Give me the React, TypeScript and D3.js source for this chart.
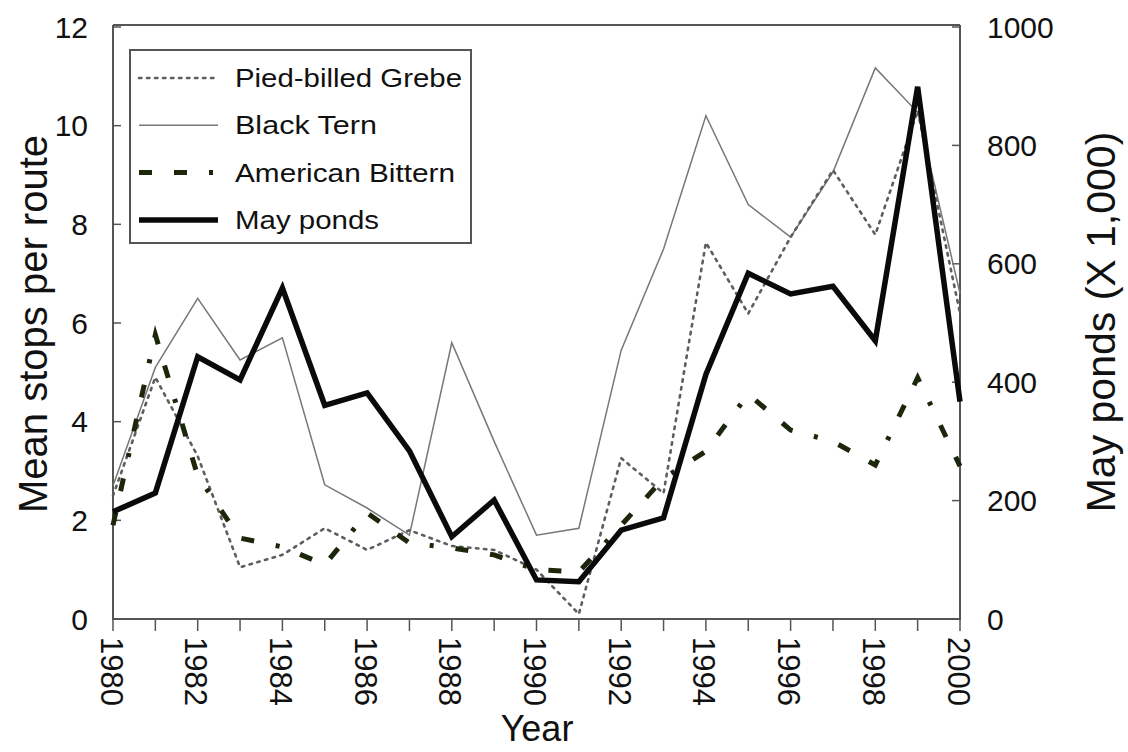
import React from "react";
import * as d3 from "d3";

const years = [1980,1981,1982,1983,1984,1985,1986,1987,1988,1989,1990,1991,1992,1993,1994,1995,1996,1997,1998,1999,2000];
const piedBilledGrebe = [2.5,4.9,3.3,1.05,1.3,1.84,1.4,1.8,1.48,1.4,1.0,0.1,3.26,2.55,7.63,6.19,7.74,9.1,7.79,10.3,6.2];
const blackTern = [2.7,5.1,6.5,5.25,5.7,2.72,2.25,1.7,5.6,3.6,1.7,1.84,5.45,7.5,10.2,8.4,7.74,9.06,11.17,10.27,6.6];
const americanBittern = [1.9,5.76,2.9,1.64,1.46,1.1,2.15,1.54,1.44,1.3,1.0,0.95,1.9,2.85,3.4,4.56,3.83,3.6,3.12,4.89,3.1];
const mayPonds = [181,213,443,404,559,361,382,284,139,201,66,63,150,171,413,584,549,562,470,899,367];

const leftTicks = [0,2,4,6,8,10,12];
const rightTicks = [0,200,400,600,800,1000];
const xTickLabels = [1980,1982,1984,1986,1988,1990,1992,1994,1996,1998,2000];

const legendItems = [
  { label: "Pied-billed Grebe", key: "grebe" },
  { label: "Black Tern", key: "tern" },
  { label: "American Bittern", key: "bittern" },
  { label: "May ponds", key: "ponds" },
];

const styles: Record<string, any> = {
  grebe: { stroke: "#5e5e5e", width: 2.6, dash: "2.5,5.5", cap: "round" },
  tern: { stroke: "#777", width: 1.5, dash: null, cap: "butt" },
  bittern: { stroke: "#1c260a", width: 5, dash: "13,22,13,22,4,22", cap: "butt" },
  ponds: { stroke: "#0a0a0a", width: 5.5, dash: null, cap: "butt" },
};

export default function App() {
  const W = 1128, H = 752;
  const x = d3.scaleLinear().domain([1980, 2000]).range([113, 960]);
  const yL = d3.scaleLinear().domain([0, 12]).range([619, 27]);
  const yR = d3.scaleLinear().domain([0, 1000]).range([619, 27]);
  const font = "'Liberation Sans', Arial, sans-serif";

  const lineL = d3.line<number>().x((_, i) => x(years[i])).y((d) => yL(d));
  const lineR = d3.line<number>().x((_, i) => x(years[i])).y((d) => yR(d));

  const series = [
    { key: "tern", d: lineL(blackTern) },
    { key: "grebe", d: lineL(piedBilledGrebe) },
    { key: "bittern", d: lineL(americanBittern) },
    { key: "ponds", d: lineR(mayPonds) },
  ];

  const axisColor = "#555";
  const legendTextLen = [227, 142, 220, 144];

  return (
    <svg width={W} height={H} style={{ position: "absolute", left: 0, top: 0, background: "#fff" }} fontFamily={font}>
      <rect x={0} y={0} width={W} height={H} fill="#fff" />
      {/* frame */}
      <line x1={113} x2={960} y1={25} y2={25} stroke={axisColor} strokeWidth={2} />
      <line x1={113} x2={113} y1={25} y2={620} stroke={axisColor} strokeWidth={2} />
      <line x1={960} x2={960} y1={25} y2={620} stroke={axisColor} strokeWidth={2} />
      <line x1={112} x2={961} y1={619} y2={619} stroke={axisColor} strokeWidth={2} />

      {/* left ticks */}
      {leftTicks.map((t) => (
        <g key={"l" + t}>
          <line x1={113} x2={121} y1={yL(t)} y2={yL(t)} stroke={axisColor} strokeWidth={1.5} />
          <text x={88} y={yL(t)} textAnchor="end" dominantBaseline="central" fontSize={30} fill="#111">{t}</text>
        </g>
      ))}
      {/* right ticks */}
      {rightTicks.map((t) => (
        <g key={"r" + t}>
          <line x1={952} x2={960} y1={yR(t)} y2={yR(t)} stroke={axisColor} strokeWidth={1.5} />
          <text x={987} y={yR(t)} textAnchor="start" dominantBaseline="central" fontSize={30} fill="#111">{t}</text>
        </g>
      ))}
      {/* bottom ticks */}
      {years.map((yr) => (
        <line key={"b" + yr} x1={x(yr)} x2={x(yr)} y1={619} y2={631} stroke={axisColor} strokeWidth={1.5} />
      ))}
      {xTickLabels.map((yr) => (
        <text key={"bl" + yr} transform={`translate(${x(yr) - 2},637) rotate(90)`} textAnchor="start" dominantBaseline="central" fontSize={31} fill="#111">{yr}</text>
      ))}

      {/* axis titles */}
      <text transform="translate(33,324) rotate(-90)" textAnchor="middle" dominantBaseline="central" fontSize={40} fill="#111">Mean stops per route</text>
      <text transform="translate(1101,322) rotate(-90)" textAnchor="middle" dominantBaseline="central" fontSize={41} fill="#111">May ponds (X 1,000)</text>
      <text x={537} y={741} textAnchor="middle" fontSize={36} fill="#111">Year</text>

      {/* series */}
      {series.map((s) => {
        const st = styles[s.key];
        return (
          <path key={s.key} d={s.d || ""} fill="none" stroke={st.stroke} strokeWidth={st.width}
            strokeDasharray={st.dash || undefined} strokeLinecap={st.cap} strokeLinejoin="miter" />
        );
      })}

      {/* legend */}
      <rect x={130} y={50} width={341} height={193} fill="#fff" stroke={axisColor} strokeWidth={2} />
      {legendItems.map((it, i) => {
        const st = styles[it.key];
        const cy = 78 + i * 47.3;
        return (
          <g key={it.key}>
            <line x1={139} x2={218} y1={cy} y2={cy} stroke={st.stroke} strokeWidth={st.width}
              strokeDasharray={st.dash || undefined} strokeLinecap={st.cap} />
            <text x={235} y={cy} dominantBaseline="central" fontSize={26} fill="#111"
              textLength={legendTextLen[i]} lengthAdjust="spacingAndGlyphs">{it.label}</text>
          </g>
        );
      })}
    </svg>
  );
}
